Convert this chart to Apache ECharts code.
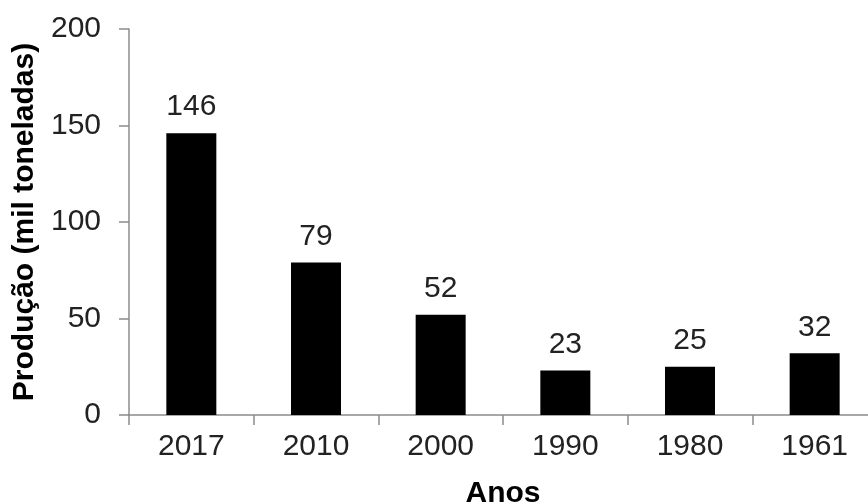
<!DOCTYPE html>
<html>
<head>
<meta charset="utf-8">
<script src="https://cdn.jsdelivr.net/npm/echarts@6/dist/echarts.min.js"></script>
<style>
  html, body { margin: 0; padding: 0; background: #fff; }
  #chart { width: 868px; height: 502px; }
</style>
</head>
<body>
<div id="chart"></div>
<script>
// anos (eixo x) e produção em mil toneladas
const anos = ['2017', '2010', '2000', '1990', '1980', '1961'];
const producao = [146, 79, 52, 23, 25, 32];
const yTicks = { min: 0, max: 200, interval: 50 };

const FONT = '"Liberation Sans", Arial, sans-serif';
const axisGray = '#8c8c8c';

const chart = echarts.init(document.getElementById('chart'), null, { renderer: 'canvas' });

chart.setOption({
  animation: false,
  grid: { left: 129, top: 29, width: 748, height: 386, containLabel: false, outerBoundsMode: 'none' },
  xAxis: {
    type: 'category',
    data: anos,
    name: 'Anos',
    nameLocation: 'middle',
    nameGap: 64,
    nameTextStyle: { fontFamily: FONT, fontSize: 30, fontWeight: 'bold', color: '#000' },
    axisLine: { show: true, lineStyle: { color: axisGray, width: 1.5 } },
    axisTick: { show: true, length: 10, alignWithLabel: false, lineStyle: { color: axisGray, width: 1.5 } },
    axisLabel: { fontFamily: FONT, fontSize: 30, color: '#222', margin: 17 }
  },
  yAxis: {
    type: 'value',
    min: yTicks.min,
    max: yTicks.max,
    interval: yTicks.interval,
    name: 'Produção (mil toneladas)',
    nameLocation: 'middle',
    nameRotate: 90,
    nameGap: 86,
    nameTextStyle: { fontFamily: FONT, fontSize: 30, fontWeight: 'bold', color: '#000' },
    axisLine: { show: true, lineStyle: { color: axisGray, width: 1.5 } },
    axisTick: { show: true, length: 10, lineStyle: { color: axisGray, width: 1.5 } },
    axisLabel: { fontFamily: FONT, fontSize: 30, color: '#222', margin: 28 },
    splitLine: { show: false }
  },
  series: [{
    type: 'bar',
    data: producao,
    barWidth: 50,
    itemStyle: { color: '#000' },
    label: {
      show: true,
      position: 'top',
      distance: 11,
      fontFamily: FONT,
      fontSize: 30,
      color: '#222'
    }
  }]
});
</script>
</body>
</html>
